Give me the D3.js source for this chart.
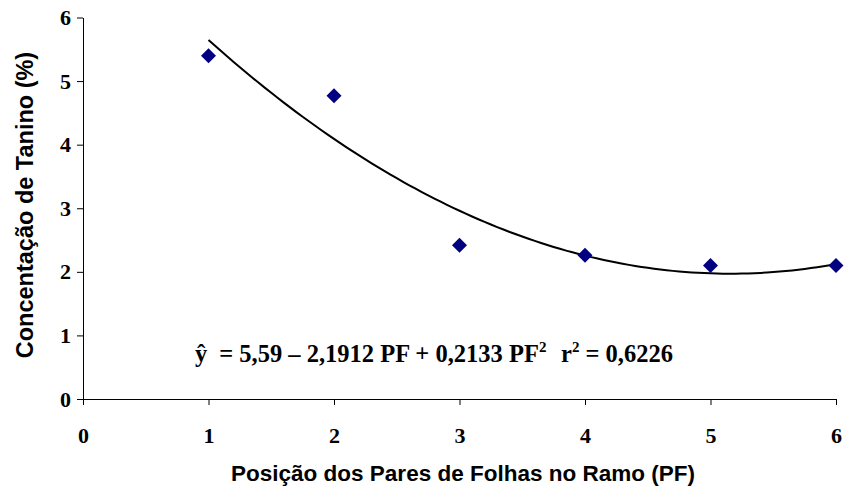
<!DOCTYPE html>
<html>
<head>
<meta charset="utf-8">
<script src="https://cdn.jsdelivr.net/npm/d3@7"></script>
<style>
  body { margin: 0; background: #fff; }
  svg { display: block; }
</style>
</head>
<body>
<svg id="chart" width="847" height="493"></svg>
<script>
// data
const posicao = [1, 2, 3, 4, 5, 6];
const tanino = [5.40, 4.77, 2.42, 2.26, 2.10, 2.10];
const xTicks = [0, 1, 2, 3, 4, 5, 6];
const yTicks = [0, 1, 2, 3, 4, 5, 6];

const svg = d3.select('#chart');
const x = d3.scaleLinear().domain([0, 6]).range([83, 836]);
const y = d3.scaleLinear().domain([0, 6]).range([399, 17.5]);

// quadratic least squares fit (Excel-style trendline) from the points
function polyFit2(xs, ys) {
  let S = [[0,0,0],[0,0,0],[0,0,0]], b = [0,0,0];
  xs.forEach((xi, i) => {
    const p = [1, xi, xi * xi];
    for (let r = 0; r < 3; r++) {
      b[r] += p[r] * ys[i];
      for (let c = 0; c < 3; c++) S[r][c] += p[r] * p[c];
    }
  });
  // gaussian elimination
  for (let k = 0; k < 3; k++) {
    for (let r = k + 1; r < 3; r++) {
      const f = S[r][k] / S[k][k];
      for (let c = k; c < 3; c++) S[r][c] -= f * S[k][c];
      b[r] -= f * b[k];
    }
  }
  const a = [0,0,0];
  for (let r = 2; r >= 0; r--) {
    let s = b[r];
    for (let c = r + 1; c < 3; c++) s -= S[r][c] * a[c];
    a[r] = s / S[r][r];
  }
  return a;
}
const coef = polyFit2(posicao, tanino);
const fitPts = d3.range(1, 6.001, 0.05).map(v => [v, coef[0] + coef[1] * v + coef[2] * v * v]);

// axes
const serif = "'Liberation Serif', 'Times New Roman', serif";
const sans = "'Liberation Sans', Arial, sans-serif";

const xAxis = svg.append('g').attr('transform', `translate(0,${y(0)})`)
  .call(d3.axisBottom(x).tickValues(xTicks).tickFormat(d3.format('d'))
    .tickSize(6).tickSizeOuter(0).tickPadding(22));
const yAxis = svg.append('g').attr('transform', `translate(${x(0)},0)`)
  .call(d3.axisLeft(y).tickValues(yTicks).tickFormat(d3.format('d'))
    .tickSize(6).tickSizeOuter(0).tickPadding(6));

[xAxis, yAxis].forEach(g => {
  g.select('.domain').attr('stroke', '#000').attr('stroke-width', 1);
  g.selectAll('.tick line').attr('stroke', '#000');
  g.selectAll('.tick text')
    .attr('fill', '#000')
    .style('font-family', serif)
    .style('font-weight', 'bold')
    .style('font-size', '22px');
});

// trendline
svg.append('path')
  .datum(fitPts)
  .attr('fill', 'none')
  .attr('stroke', '#000')
  .attr('stroke-width', 2)
  .attr('d', d3.line().x(d => x(d[0])).y(d => y(d[1])).curve(d3.curveLinear));

// markers
svg.selectAll('.pt')
  .data(posicao.map((p, i) => [p, tanino[i]]))
  .join('path')
  .attr('class', 'pt')
  .attr('transform', d => `translate(${x(d[0])},${y(d[1])})`)
  .attr('d', 'M0,-7.5L7.5,0L0,7.5L-7.5,0Z')
  .attr('fill', '#000080');

// equation
const eqStyle = sel => sel
  .style('font-family', serif)
  .style('font-weight', 'bold')
  .style('font-size', '24.5px')
  .attr('fill', '#000');

const eq = svg.append('text').attr('x', 195).attr('y', 362).call(eqStyle);
eq.append('tspan').text('ŷ');
eq.append('tspan').attr('dx', 12).text('= 5,59 – 2,1912 PF + 0,2133 PF');
eq.append('tspan').attr('dy', -10).style('font-size', '15px').text('2');

const r2 = svg.append('text').attr('x', 561).attr('y', 362).call(eqStyle);
r2.append('tspan').text('r');
r2.append('tspan').attr('dy', -10).style('font-size', '15px').text('2');
r2.append('tspan').attr('dy', 10).text(' = 0,6226');

// axis titles
svg.append('text')
  .attr('x', 463).attr('y', 481)
  .attr('text-anchor', 'middle')
  .style('font-family', sans)
  .style('font-weight', 'bold')
  .style('font-size', '22.5px')
  .text('Posição dos Pares de Folhas no Ramo (PF)');

svg.append('text')
  .attr('transform', 'translate(33,205) rotate(-90)')
  .attr('text-anchor', 'middle')
  .style('font-family', sans)
  .style('font-weight', 'bold')
  .style('font-size', '23.5px')
  .text('Concentação de Tanino (%)');
</script>
</body>
</html>
